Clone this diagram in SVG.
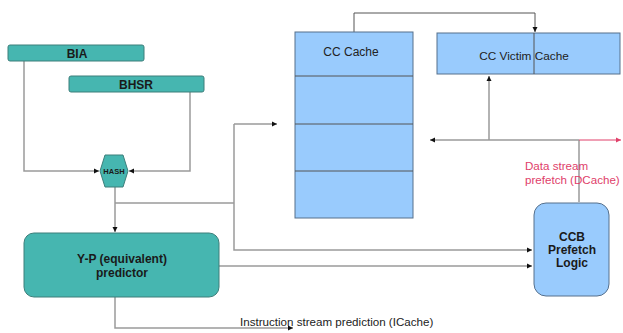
<svg xmlns="http://www.w3.org/2000/svg" width="623" height="333" viewBox="0 0 623 333">
<defs>
<style>
.teal{fill:#46b6b0;stroke:#3d7f7b;stroke-width:1}
.blue{fill:#99cbfd;stroke:#56708c;stroke-width:1}
.ln{fill:none;stroke:#9a9a9a;stroke-width:1.5}
.dk{fill:none;stroke:#555;stroke-width:1}
.b{font-family:"Liberation Sans",Arial,sans-serif;font-weight:bold;fill:#1a1a1a;text-anchor:middle}
.t{font-family:"Liberation Sans",Arial,sans-serif;fill:#222}
.red{font-family:"Liberation Sans",Arial,sans-serif;fill:#e0406a}
</style>
<marker id="ah" markerWidth="6" markerHeight="6" refX="5" refY="3" orient="auto" markerUnits="userSpaceOnUse">
<path d="M0,0.5 L5,3 L0,5.5 z" fill="#111"/>
</marker>
<marker id="ahr" markerWidth="6" markerHeight="6" refX="5" refY="3" orient="auto" markerUnits="userSpaceOnUse">
<path d="M0,0.5 L5,3 L0,5.5 z" fill="#e0406a"/>
</marker>
</defs>
<g id="connectors">
<path class="ln" d="M24,61 V171 H99" marker-end="url(#ah)"/>
<path class="ln" d="M190,92 V171 H129" marker-end="url(#ah)"/>
<path class="ln" d="M115,187 V232" marker-end="url(#ah)"/>
<path class="ln" d="M115,203 H234"/>
<path class="ln" d="M234,124 V250 H532" marker-end="url(#ah)"/>
<path class="ln" d="M234,124 H277" marker-end="url(#ah)"/>
<path class="ln" d="M219,266 H532" marker-end="url(#ah)"/>
<path class="ln" d="M115,297 V328 H293" marker-end="url(#ah)"/>
<path class="dk" d="M354,32 V13 H535 V32" marker-end="url(#ah)"/>
<path class="ln" d="M579,140 H430" marker-end="url(#ah)"/>
<path class="ln" d="M489,140 V76" marker-end="url(#ah)"/>
<path class="ln" d="M579,202 V140"/>
<path fill="none" stroke="#e0406a" stroke-width="1" d="M579,140 H621" marker-end="url(#ahr)"/>
</g>
<g id="bia">
<rect class="teal" x="8" y="45" width="136" height="16" rx="2"/>
<text class="b" x="77" y="58" font-size="12">BIA</text>
</g>
<g id="bhsr">
<rect class="teal" x="69" y="76" width="135" height="16" rx="2"/>
<text class="b" x="136" y="89" font-size="12">BHSR</text>
</g>
<g id="hash">
<polygon class="teal" points="105,155 123,155 128,171 123,187 105,187 100,171"/>
<text class="b" x="114" y="174" font-size="7.5">HASH</text>
</g>
<g id="yp">
<rect class="teal" x="24" y="233" width="195" height="64" rx="10"/>
<text class="b" x="122" y="263" font-size="12">Y-P (equivalent)</text>
<text class="b" x="122" y="277" font-size="12">predictor</text>
</g>
<g id="cccache">
<rect class="blue" x="295" y="32" width="118" height="186"/>
<path class="dk" d="M295,76 H413 M295,124 H413 M295,171 H413"/>
<text class="t" x="351" y="56" font-size="12" text-anchor="middle">CC Cache</text>
</g>
<g id="victim">
<rect class="blue" x="437" y="33" width="183" height="41"/>
<path class="dk" d="M534,33 V74"/>
<text class="t" x="524" y="60" font-size="11.8" text-anchor="middle">CC Victim Cache</text>
</g>
<g id="ccb">
<rect class="blue" x="534" y="203" width="75" height="93" rx="12"/>
<text class="b" x="572" y="241" font-size="12">CCB</text>
<text class="b" x="572" y="254" font-size="12">Prefetch</text>
<text class="b" x="572" y="267" font-size="12">Logic</text>
</g>
<g id="labels">
<text class="red" x="525" y="170" font-size="11.6">Data stream</text>
<text class="red" x="525" y="184" font-size="11.6">prefetch (DCache)</text>
<text class="t" x="240" y="326" font-size="11.6">Instruction stream prediction (ICache)</text>
</g>
</svg>
